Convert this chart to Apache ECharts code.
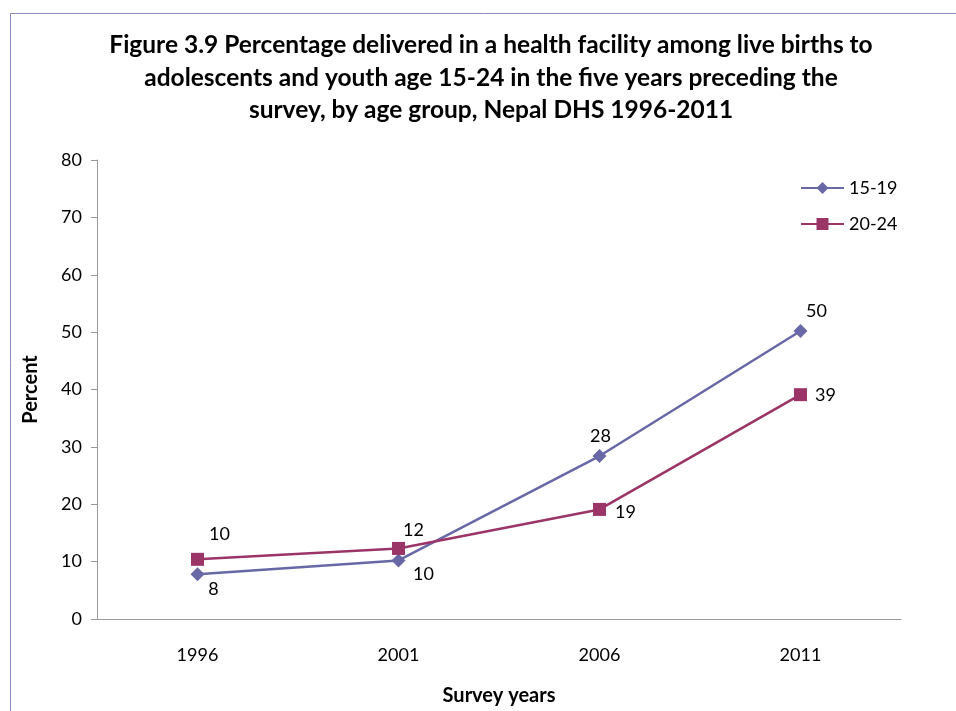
<!DOCTYPE html>
<html><head><meta charset="utf-8">
<script src="https://cdn.jsdelivr.net/npm/echarts@6/dist/echarts.min.js"></script>
<style>html,body{margin:0;padding:0;background:#fff}#c{width:956px;height:711px}</style>
</head><body><div id="c"></div>
<script>
const categories = ['1996', '2001', '2006', '2011'];
const seriesNames = ['15-19', '20-24'];
const values1519 = [7.8, 10.2, 28.4, 50.2];
const values2024 = [10.4, 12.3, 19.1, 39.1];
const yTicks = [0, 10, 20, 30, 40, 50, 60, 70, 80];

const offsets1519 = [[16, 15], [25, 14], [1, -20], [16, -20]];
const offsets2024 = [[22, -25], [15, -18], [26, 3], [25, 1]];

function mk(vals, offs) {
  return vals.map((v, i) => ({
    value: v,
    label: { show: true, position: 'inside', offset: offs[i] }
  }));
}

const FONT = 'Lato, "Open Sans", sans-serif';
const chart = echarts.init(document.getElementById('c'));
chart.setOption({
  animation: false,
  textStyle: { fontFamily: FONT },
  title: {
    text: 'Figure 3.9 Percentage delivered in a health facility among live births to\nadolescents and youth age 15-24 in the five years preceding the\nsurvey, by age group, Nepal DHS 1996-2011',
    left: 486, top: 24, textAlign: 'center',
    textStyle: { fontFamily: FONT, fontSize: 24.5, fontWeight: 'bold', color: '#000', lineHeight: 32.5 }
  },
  graphic: [{
    type: 'rect', shape: { x: 10.5, y: 13.5, width: 1000, height: 1000 },
    style: { fill: 'none', stroke: '#8C8CBC', lineWidth: 1 }, silent: true
  }],
  legend: {
    orient: 'vertical', left: 795, top: 174, itemWidth: 43, itemHeight: 15, itemGap: 18,
    textStyle: { fontFamily: FONT, fontSize: 18, color: '#000' },
    data: seriesNames
  },
  grid: { left: 97, right: 55, top: 160, bottom: 87 },
  xAxis: {
    type: 'category', data: categories, boundaryGap: true,
    name: 'Survey years', nameLocation: 'middle', nameGap: 67,
    nameTextStyle: { fontFamily: FONT, fontSize: 20, fontWeight: 'bold', color: '#000' },
    axisLine: { lineStyle: { color: '#999' } },
    axisTick: { show: false },
    axisLabel: { fontFamily: FONT, fontSize: 18, color: '#000', margin: 27 }
  },
  yAxis: {
    type: 'value', min: yTicks[0], max: yTicks[yTicks.length - 1], interval: 10,
    name: 'Percent', nameLocation: 'middle', nameGap: 56, nameRotate: 90,
    nameTextStyle: { fontFamily: FONT, fontSize: 20, fontWeight: 'bold', color: '#000' },
    axisLine: { show: true, lineStyle: { color: '#999' } },
    axisTick: { show: true, length: 6, lineStyle: { color: '#999' } },
    splitLine: { show: false },
    axisLabel: { fontFamily: FONT, fontSize: 18, color: '#000', margin: 15 }
  },
  series: [
    {
      name: seriesNames[0], type: 'line', data: mk(values1519, offsets1519),
      symbol: 'diamond', symbolSize: 14,
      itemStyle: { color: '#6868A6' }, lineStyle: { color: '#6868A6', width: 2.5 },
      label: { fontFamily: FONT, fontSize: 18, color: '#000', formatter: p => Math.round(p.value) }
    },
    {
      name: seriesNames[1], type: 'line', data: mk(values2024, offsets2024),
      symbol: 'rect', symbolSize: 13,
      itemStyle: { color: '#9B3467' }, lineStyle: { color: '#9B3467', width: 2.5 },
      label: { fontFamily: FONT, fontSize: 18, color: '#000', formatter: p => Math.round(p.value) }
    }
  ]
});
</script></body></html>
